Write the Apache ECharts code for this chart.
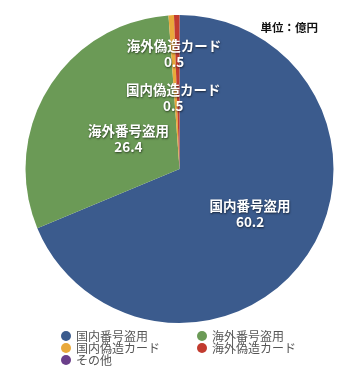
<!DOCTYPE html>
<html>
<head>
<meta charset="utf-8">
<script src="https://cdn.jsdelivr.net/npm/echarts@6/dist/echarts.min.js"></script>
<style>
html,body{margin:0;padding:0;background:#fff;}
#chart{width:360px;height:386px;}
</style>
</head>
<body>
<div id="chart"></div>
<script>
var categories = ['国内番号盗用', '海外番号盗用', '国内偽造カード', '海外偽造カード', 'その他'];
var values = [60.2, 26.4, 0.5, 0.5, 0];
var colors = ['#3b5b8d', '#6b9a56', '#e9a93b', '#c23b2f', '#6b3f8a'];
var unitLabel = '単位：億円';

var chart = echarts.init(document.getElementById('chart'), null, {renderer: 'canvas'});
var font = '"Noto Sans CJK JP", "Noto Sans", sans-serif';

var data = categories.map(function (c, i) {
  var d = {name: c, value: values[i], itemStyle: {color: colors[i]}};
  if (values[i] === 0) d.label = {show: false};
  return d;
});

var labelShift = [[4, 0], [17, 12], [-2, 9], [-4, -35], [0, 0]];

chart.setOption({
  animation: false,
  textStyle: {fontFamily: font},
  title: {
    text: unitLabel,
    right: 37, top: 17,
    textStyle: {fontSize: 11.5, fontWeight: 'bold', color: '#111', fontFamily: font}
  },
  legend: [{
    data: [categories[0], categories[2], categories[4]],
    orient: 'vertical', left: 61, top: 330, padding: 0,
    itemWidth: 10, itemHeight: 10, itemGap: 0, icon: 'circle',
    textStyle: {fontSize: 12, lineHeight: 12, color: '#555', fontFamily: font}
  }, {
    data: [categories[1], categories[3]],
    orient: 'vertical', left: 197, top: 330, padding: 0,
    itemWidth: 10, itemHeight: 10, itemGap: 0, icon: 'circle',
    textStyle: {fontSize: 12, lineHeight: 12, color: '#555', fontFamily: font}
  }],
  series: [{
    type: 'pie',
    center: [179.5, 169],
    radius: 154,
    startAngle: 90,
    clockwise: true,
    avoidLabelOverlap: false,
    data: data,
    itemStyle: {borderWidth: 0},
    label: {
      show: true,
      position: 'inside',
      formatter: function (p) { return p.name + '\n' + p.value.toFixed(1); },
      color: '#fff',
      fontSize: 13.5,
      fontWeight: 'bold',
      lineHeight: 16,
      fontFamily: font,
      textBorderWidth: 0,
      textShadowColor: 'rgba(0,0,0,0.6)',
      textShadowBlur: 2,
      textShadowOffsetX: 0.5,
      textShadowOffsetY: 1
    },
    labelLine: {show: false},
    labelLayout: function (p) {
      var s = labelShift[p.dataIndex] || [0, 0];
      return {dx: s[0], dy: s[1], hideOverlap: false};
    },
    emphasis: {disabled: true}
  }]
});
</script>
</body>
</html>
